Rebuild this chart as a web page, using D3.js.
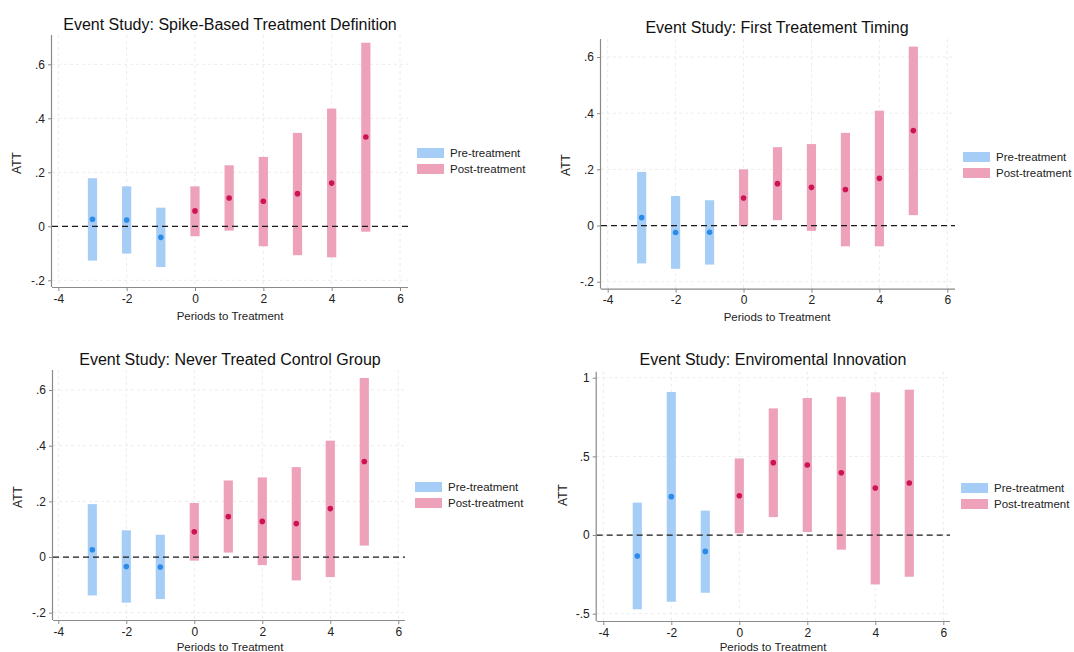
<!DOCTYPE html>
<html>
<head>
<meta charset="utf-8">
<script src="https://cdn.jsdelivr.net/npm/d3@7"></script>
<style>
  html, body { margin: 0; padding: 0; background: #fff; }
  svg { display: block; font-family: "Liberation Sans", Arial, sans-serif; }
</style>
</head>
<body>
<svg id="chart" width="1074" height="652"></svg>
<script>
// ---------- DATA ----------
const periods = [-3, -2, -1, 0, 1, 2, 3, 4, 5];

const titles = [
  "Event Study: Spike-Based Treatment Definition",
  "Event Study: First Treatement Timing",
  "Event Study: Never Treated Control Group",
  "Event Study: Enviromental Innovation"
];

const spikeATT = [0.026, 0.023, -0.041, 0.057, 0.105, 0.093, 0.121, 0.160, 0.331];
const spikeLo  = [-0.127, -0.101, -0.151, -0.037, -0.016, -0.074, -0.107, -0.115, -0.020];
const spikeHi  = [0.178, 0.148, 0.069, 0.148, 0.226, 0.257, 0.346, 0.436, 0.680];

const firstATT = [0.028, -0.025, -0.024, 0.098, 0.149, 0.136, 0.128, 0.168, 0.338];
const firstLo  = [-0.135, -0.154, -0.139, -0.002, 0.019, -0.019, -0.074, -0.074, 0.037];
const firstHi  = [0.191, 0.105, 0.090, 0.200, 0.279, 0.290, 0.330, 0.409, 0.637];

const neverATT = [0.026, -0.034, -0.036, 0.091, 0.145, 0.128, 0.120, 0.174, 0.343];
const neverLo  = [-0.138, -0.164, -0.151, -0.013, 0.016, -0.029, -0.084, -0.072, 0.041];
const neverHi  = [0.190, 0.096, 0.080, 0.194, 0.275, 0.286, 0.323, 0.418, 0.643];

const enviroATT = [-0.133, 0.244, -0.104, 0.250, 0.460, 0.445, 0.396, 0.299, 0.331];
const enviroLo  = [-0.472, -0.424, -0.367, 0.011, 0.114, 0.019, -0.093, -0.314, -0.265];
const enviroHi  = [0.206, 0.909, 0.155, 0.487, 0.805, 0.871, 0.879, 0.907, 0.924];

const xTicks = [-4, -2, 0, 2, 4, 6];
const xTickLabels = ["-4", "-2", "0", "2", "4", "6"];
const yTicksA = [-0.2, 0, 0.2, 0.4, 0.6];
const yTickLabelsA = ["-.2", "0", ".2", ".4", ".6"];
const yTicksB = [-0.5, 0, 0.5, 1];
const yTickLabelsB = ["-.5", "0", ".5", "1"];

const legendLabels = ["Pre-treatment", "Post-treatment"];
const xTitle = "Periods to Treatment";
const yTitle = "ATT";

// ---------- LAYOUT (pixels) ----------
const panels = [
  { att: spikeATT, lo: spikeLo, hi: spikeHi, yt: yTicksA, ytl: yTickLabelsA,
    xr: [58.3, 400], yr: [280.3, 64.3], box: [52, 408, 35, 287],
    title: [230, 30], xlab: [230, 320], ylab: [17, 163], leg: [417, 148] },
  { att: firstATT, lo: firstLo, hi: firstHi, yt: yTicksA, ytl: yTickLabelsA,
    xr: [607.7, 947.3], yr: [281.7, 57], box: [601, 955, 39, 288.7],
    title: [777, 33], xlab: [777, 321], ylab: [566, 165], leg: [963, 152] },
  { att: neverATT, lo: neverLo, hi: neverHi, yt: yTicksA, ytl: yTickLabelsA,
    xr: [58.3, 398.3], yr: [612.7, 390], box: [53, 405, 370, 620],
    title: [230, 365], xlab: [230, 651], ylab: [18, 497], leg: [415, 482] },
  { att: enviroATT, lo: enviroLo, hi: enviroHi, yt: yTicksB, ytl: yTickLabelsB,
    xr: [603.3, 943.3], yr: [613.7, 377.7], box: [596.7, 950, 371.7, 621],
    title: [773, 365], xlab: [773, 651], ylab: [563, 495], leg: [961, 483] }
];

const colors = {
  preBar: "#a6cdf6", postBar: "#eda2ba",
  preDot: "#2b8be6", postDot: "#cc1452",
  axis: "#8a8a8a", grid: "#ececec", text: "#222"
};

const svg = d3.select("#chart");

panels.forEach((p, i) => {
  const g = svg.append("g");
  const x = d3.scaleLinear().domain([xTicks[0], xTicks[xTicks.length - 1]]).range(p.xr);
  const y = d3.scaleLinear().domain([p.yt[0], p.yt[p.yt.length - 1]]).range(p.yr);
  const [bl, br, bt, bb] = p.box;

  // grid
  g.selectAll(".gy").data(p.yt).join("line")
    .attr("x1", bl).attr("x2", br)
    .attr("y1", d => y(d)).attr("y2", d => y(d))
    .attr("stroke", colors.grid).attr("stroke-width", 1).attr("stroke-dasharray", "3,3");
  g.selectAll(".gx").data(xTicks).join("line")
    .attr("x1", d => x(d)).attr("x2", d => x(d))
    .attr("y1", bt).attr("y2", bb)
    .attr("stroke", colors.grid).attr("stroke-width", 1).attr("stroke-dasharray", "3,3");

  // bars
  const bw = x(0.135) - x(-0.135);
  g.selectAll(".bar").data(periods).join("rect")
    .attr("x", (d) => x(d) - bw / 2)
    .attr("width", bw)
    .attr("y", (d, k) => y(p.hi[k]))
    .attr("height", (d, k) => y(p.lo[k]) - y(p.hi[k]))
    .attr("fill", d => d < 0 ? colors.preBar : colors.postBar);

  // zero line (drawn over bars, as in the reference)
  g.append("line")
    .attr("x1", bl).attr("x2", br).attr("y1", y(0)).attr("y2", y(0))
    .attr("stroke", "#1a1a1a").attr("stroke-width", 1.2).attr("stroke-dasharray", "6,4");

  // points
  g.selectAll(".pt").data(periods).join("circle")
    .attr("cx", d => x(d))
    .attr("cy", (d, k) => y(p.att[k]))
    .attr("r", 2.8)
    .attr("fill", d => d < 0 ? colors.preDot : colors.postDot);

  // axes
  const xAxis = d3.axisBottom(x).tickValues(xTicks).tickFormat((d, k) => xTickLabels[k]).tickSize(4).tickPadding(3);
  const gx = g.append("g").attr("transform", `translate(0,${bb})`).call(xAxis);
  gx.select(".domain").remove();
  gx.append("line").attr("x1", bl).attr("x2", br).attr("y1", 0.5).attr("y2", 0.5)
    .attr("stroke", colors.axis).attr("stroke-width", 1.2);

  const yAxis = d3.axisLeft(y).tickValues(p.yt).tickFormat((d, k) => p.ytl[k]).tickSize(4).tickPadding(3);
  const gy = g.append("g").attr("transform", `translate(${bl},0)`).call(yAxis);
  gy.select(".domain").remove();
  gy.append("line").attr("x1", -0.5).attr("x2", -0.5).attr("y1", bt).attr("y2", bb)
    .attr("stroke", colors.axis).attr("stroke-width", 1.2);

  [gx, gy].forEach(a => {
    a.selectAll(".tick line").attr("stroke", colors.axis);
    a.selectAll(".tick text").attr("fill", colors.text)
      .style("font-size", "12px").style("font-family", "'Liberation Sans', Arial, sans-serif");
  });

  // title
  g.append("text").attr("x", p.title[0]).attr("y", p.title[1])
    .attr("text-anchor", "middle").attr("fill", "#111")
    .style("font-size", "16px").text(titles[i]);

  // axis titles
  g.append("text").attr("x", p.xlab[0]).attr("y", p.xlab[1])
    .attr("text-anchor", "middle").attr("fill", colors.text)
    .style("font-size", "11.5px").text(xTitle);
  g.append("text")
    .attr("transform", `translate(${p.ylab[0]},${p.ylab[1]}) rotate(-90)`)
    .attr("text-anchor", "middle").attr("dominant-baseline", "central").attr("fill", colors.text)
    .style("font-size", "12px").text(yTitle);

  // legend
  const lg = g.append("g").attr("transform", `translate(${p.leg[0]},${p.leg[1]})`);
  legendLabels.forEach((lab, k) => {
    lg.append("rect").attr("x", 0).attr("y", k * 16).attr("width", 27).attr("height", 10)
      .attr("fill", k === 0 ? colors.preBar : colors.postBar);
    lg.append("text").attr("x", 33).attr("y", k * 16 + 5)
      .attr("dominant-baseline", "central").attr("fill", colors.text)
      .style("font-size", "11.5px").text(lab);
  });
});
</script>
</body>
</html>
